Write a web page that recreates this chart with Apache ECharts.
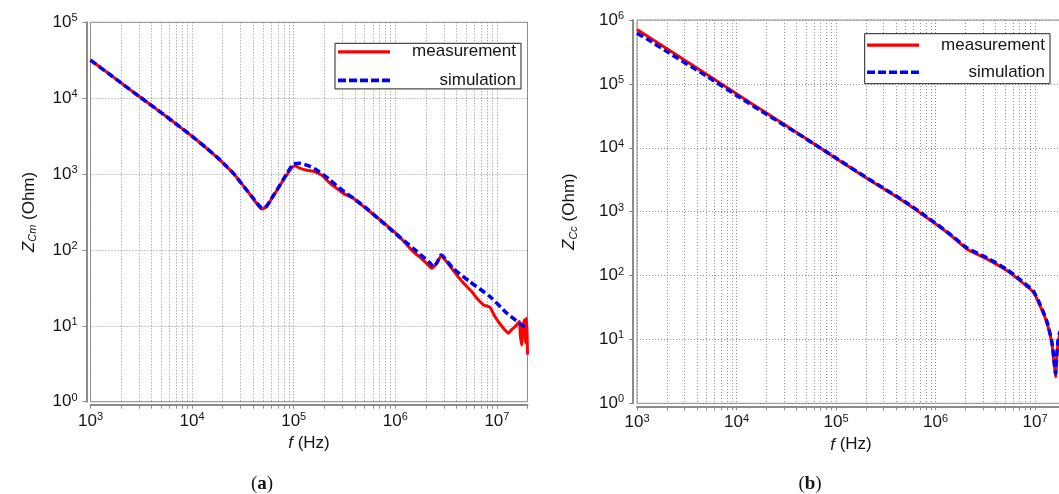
<!DOCTYPE html>
<html><head><meta charset="utf-8">
<script src="https://cdn.jsdelivr.net/npm/echarts@6/dist/echarts.min.js"></script>
<style>html,body{margin:0;padding:0;background:#fff}#c{width:1059px;height:494px}</style>
</head><body><div id="c"></div>
<script>
// ---------- data ----------
const seriesNames = ['measurement', 'simulation'];
const panelLetters = ['a', 'b'];
const yNameSubs = ['Cm', 'Cc'];
const xMajorTicks = [1e3, 1e4, 1e5, 1e6, 1e7];
const xMultipliers = [1, 2, 3, 4, 5, 6, 7, 8, 9];
const yTicksA = [1, 10, 100, 1e3, 1e4, 1e5];
const yTicksB = [1, 10, 100, 1e3, 1e4, 1e5, 1e6];

// panel (a) : Z_Cm
const freqMeasA = [1e3,1.5e3,2e3,3e3,5e3,7e3,1e4,1.4e4,1.89e4,2.2e4,2.55e4,3e4,3.44e4,3.9e4,4.32e4,4.84e4,5.42e4,6e4,6.55e4,7.2e4,7.9e4,8.7e4,9.55e4,1.03e5,1.12e5,1.24e5,1.4e5,1.62e5,1.88e5,2.05e5,2.28e5,2.6e5,3.08e5,3.86e5,4.6e5,5.64e5,7.06e5,8.2e5,1.03e6,1.25e6,1.5e6,1.75e6,2e6,2.28e6,2.4e6,2.56e6,2.82e6,3.2e6,3.6e6,4.02e6,4.5e6,5.05e6,5.65e6,6.2e6,6.8e6,7.4e6,7.94e6,8.55e6,9.1e6,9.6e6,1.05e7,1.11e7,1.2e7,1.3e7,1.37e7,1.45e7,1.55e7,1.66e7,1.7e7,1.75e7,1.8e7,1.85e7,1.88e7,1.92e7,1.95e7,1.98e7,2e7];
const zMeasA = [31800,21200,15900,10600,6400,4550,3150,2170,1530,1245,1021,777,617,494,411,346,372,462,557,682,834,1009,1211,1274,1215,1153,1115,1071,970,866,755,661,557,479,395,319,250,212,163,124,95,80,68,57.4,60,66.8,83.4,70,57,46.9,39,32.9,28.3,24,20.9,18.8,18.3,17.6,15,13.2,11,10,8.8,8.0,8.7,9.3,10.2,11.4,7.5,5.6,9,12,8,5.9,12.6,8,4.2];
const freqSimA = [1e3,1.5e3,2e3,3e3,5e3,7e3,1e4,1.4e4,1.89e4,2.2e4,2.55e4,3e4,3.44e4,3.9e4,4.32e4,4.9e4,5.42e4,6e4,6.55e4,7.2e4,7.9e4,8.7e4,9.9e4,1.15e5,1.39e5,1.68e5,2e5,2.28e5,2.97e5,3.86e5,5e5,7.06e5,1e6,1.5e6,2.2e6,2.37e6,2.6e6,2.82e6,3.7e6,5.4e6,8.55e6,1.25e7,2e7];
const zSimA = [31800,21200,15900,10600,6400,4550,3150,2170,1530,1245,1021,777,617,500,418,354,380,470,565,690,850,1050,1355,1384,1290,1130,960,834,617,482,370,248,165,105,67,60,70,86,57.4,38.3,24.3,14.7,9];

// panel (b) : Z_Cc
const freqMeasB = [1e3,2e3,5e3,1e4,2e4,5e4,1e5,2e5,5e5,9.5e5,1.45e6,2.06e6,3.27e6,5.2e6,7.07e6,9.6e6,1.12e7,1.31e7,1.47e7,1.55e7,1.61e7,1.65e7,1.7e7,1.75e7,2e7];
const zMeasB = [710000,355000,142000,70000,35000,14000,6800,3400,1380,681,416,261,182,120,83,55,34,18.6,9.1,4.4,2.6,5,8.5,11,20];
const freqSimB = [1e3,1.3e3,2e3,5e3,1e4,2e4,5e4,1e5,2e5,5e5,9.5e5,1.45e6,2.06e6,3.27e6,5.2e6,7.07e6,9.6e6,1.12e7,1.31e7,1.47e7,1.55e7,1.61e7,1.65e7,1.7e7,1.75e7,2e7];
const zSimB = [620000,490000,320000,132000,66000,33500,13800,6900,3450,1420,700,425,272,190,125,86,57,35.5,19.5,9.5,4.8,2.9,5.5,9.5,12,22];

// ---------- styling ----------
const FONT = '"Liberation Sans", Arial, Helvetica, sans-serif';
const SERIF = '"Liberation Serif", "DejaVu Serif", serif';
const TXT = '#151515';
const AXC = '#8c8c8c';
const GRIDC = '#8f8f8f';
const ICON_SOLID = 'path://M0,0h52v3.2h-52z';
const ICON_DASH = 'path://M0,0h8v3.6h-8z M11,0h8v3.6h-8z M22,0h8v3.6h-8z M33,0h8v3.6h-8z M44,0h8v3.6h-8z';

const xTicksAll = [];
xMajorTicks.forEach(m => xMultipliers.forEach(k => xTicksAll.push(m * k)));

const zip = (a, b) => a.map((v, i) => [v, b[i]]);
const supRich = {
  b: {fontSize: 17, fontFamily: FONT, color: TXT, lineHeight: 19},
  s: {fontSize: 11, fontFamily: FONT, color: TXT, lineHeight: 11, verticalAlign: 'top'}
};
const powLabel = v => '{b|10}{s|' + Math.round(Math.log10(v)) + '}';

const grids = [
  {left: 90.5, top: 22.3, width: 437, height: 379.4},
  {left: 637, top: 20, width: 428, height: 383.3}
];

const option = {
  backgroundColor: '#ffffff',
  animation: false,
  grid: grids.map(g => Object.assign({show: true, borderColor: AXC, borderWidth: 1, backgroundColor: 'transparent', containLabel: false, outerBoundsMode: 'none'}, g)),
  xAxis: [0, 1].map(i => ({
    type: 'log', logBase: 10, gridIndex: i, min: 1e3, max: 2e7, offset: 3,
    axisLine: {show: true, onZero: false, lineStyle: {color: AXC, width: 2}},
    axisTick: {show: true, inside: false, length: 4, customValues: xTicksAll, lineStyle: {color: AXC, width: 1}},
    axisLabel: {show: true, customValues: xMajorTicks, formatter: powLabel, rich: supRich, margin: 7, color: TXT, hideOverlap: false},
    splitLine: {show: true, lineStyle: {color: GRIDC, width: 1, type: [1, 2]}},
    minorTick: {show: false}, minorSplitLine: {show: false},
    name: '{i|f}{n| (Hz)}', nameLocation: 'middle', nameGap: 29,
    nameTextStyle: {rich: {
      i: {fontSize: 17, fontFamily: FONT, fontStyle: 'italic', color: TXT, lineHeight: 19},
      n: {fontSize: 17, fontFamily: FONT, color: TXT, lineHeight: 19}
    }}
  })),
  yAxis: [0, 1].map(i => ({
    type: 'log', logBase: 10, gridIndex: i, min: 1, max: i === 0 ? 1e5 : 1e6, offset: 4,
    axisLine: {show: true, onZero: false, lineStyle: {color: AXC, width: 2}},
    axisTick: {show: true, inside: false, length: 4, customValues: i === 0 ? yTicksA : yTicksB, lineStyle: {color: AXC, width: 1}},
    axisLabel: {show: true, customValues: i === 0 ? yTicksA : yTicksB, formatter: powLabel, rich: supRich, margin: 9, color: TXT},
    splitLine: {show: true, lineStyle: {color: GRIDC, width: 1, type: [1, 2]}},
    minorTick: {show: false}, minorSplitLine: {show: false},
    name: '{i|Z}{sub|' + yNameSubs[i] + '}{n| (Ohm)}', nameLocation: 'middle', nameRotate: 90,
    nameGap: i === 0 ? 48 : 54,
    nameTextStyle: {rich: {
      i: {fontSize: 17, fontFamily: FONT, fontStyle: 'italic', color: TXT, lineHeight: 19},
      sub: {fontSize: 11, fontFamily: FONT, fontStyle: 'italic', color: TXT, lineHeight: 11, verticalAlign: 'bottom'},
      n: {fontSize: 17, fontFamily: FONT, color: TXT, lineHeight: 19}
    }}
  })),
  legend: [
    {left: 335, top: 43.3, padding: [0, 5, 0, 3], itemGap: 11.6},
    {left: 864.7, top: 33.7, padding: [3, 5, 3, 2.3], itemGap: 10}
  ].map(l => Object.assign({
    orient: 'vertical', itemWidth: 52, itemHeight: 3.6, selectedMode: false,
    borderColor: '#222', borderWidth: 1, backgroundColor: '#ffffff', borderRadius: 0,
    itemStyle: {borderWidth: 0},
    data: [
      {name: seriesNames[0], icon: ICON_SOLID, itemStyle: {color: '#ff0000', borderWidth: 0}},
      {name: seriesNames[1], icon: ICON_DASH, itemStyle: {color: '#0000ff', borderWidth: 0}}
    ],
    formatter: n => '{t|' + n + '}',
    textStyle: {rich: {t: {width: 121, align: 'right', fontSize: 17, lineHeight: 15, fontFamily: FONT, color: TXT}}}
  }, l)),
  series: [
    {name: seriesNames[0], type: 'line', xAxisIndex: 0, yAxisIndex: 0, data: zip(freqMeasA, zMeasA)},
    {name: seriesNames[1], type: 'line', xAxisIndex: 0, yAxisIndex: 0, data: zip(freqSimA, zSimA)},
    {name: seriesNames[0], type: 'line', xAxisIndex: 1, yAxisIndex: 1, data: zip(freqMeasB, zMeasB)},
    {name: seriesNames[1], type: 'line', xAxisIndex: 1, yAxisIndex: 1, data: zip(freqSimB, zSimB)}
  ].map((s, k) => Object.assign(s, {
    symbol: 'none', showSymbol: false, smooth: 0.2, clip: true, silent: true,
    color: k % 2 === 0 ? '#ff0000' : '#0000ff',
    lineStyle: k % 2 === 0
      ? {color: '#ff0000', width: 3}
      : {color: '#0000ff', width: 3.5, type: [7, 3.5], cap: 'butt'},
    z: k % 2 === 0 ? 3 : 4
  })),
  graphic: panelLetters.map((p, i) => ({
    type: 'text', x: i === 0 ? 262 : 810, y: 484, silent: true,
    style: {
      text: '{p|(}{b|' + p + '}{p|)}', align: 'center', verticalAlign: 'middle',
      rich: {
        p: {fontSize: 19, fontFamily: SERIF, fill: TXT, color: TXT},
        b: {fontSize: 19, fontFamily: SERIF, fontWeight: 'bold', fill: TXT, color: TXT}
      }
    }
  }))
};

const chart = echarts.init(document.getElementById('c'), null, {renderer: 'canvas'});
chart.setOption(option);
</script>
</body></html>
